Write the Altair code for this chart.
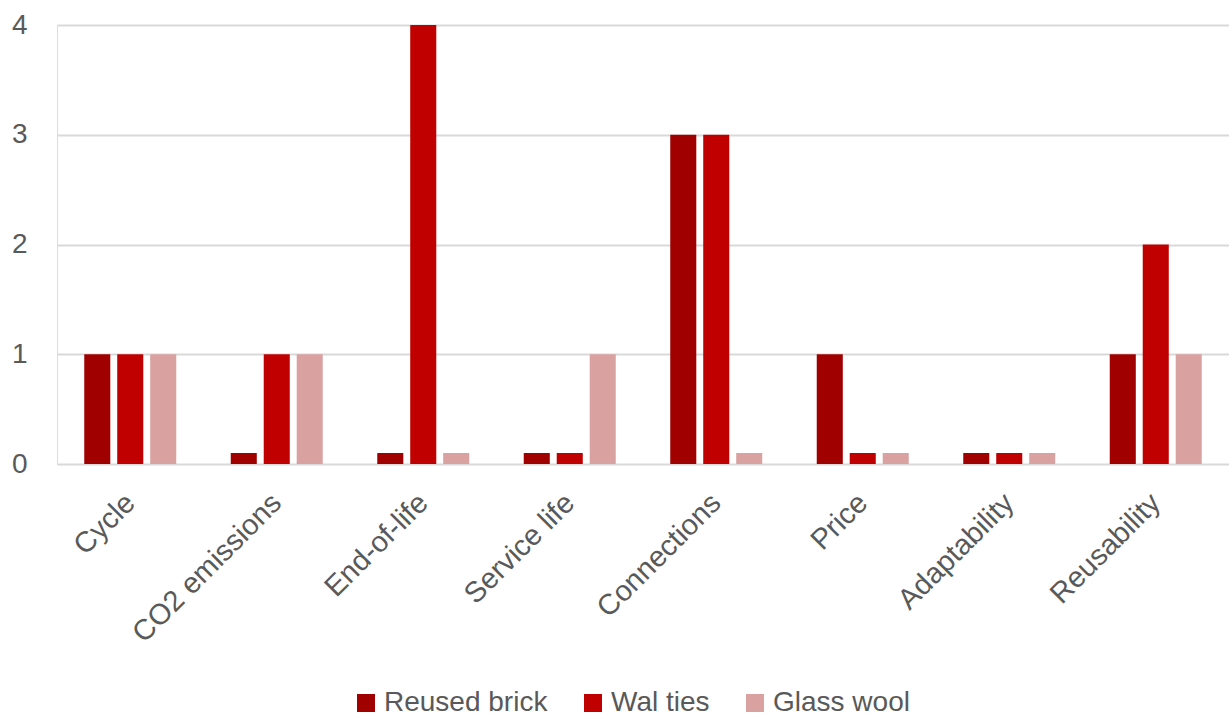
import altair as alt
import pandas as pd

# Criteria on the x axis and the three building components compared
criteria = ["Cycle", "CO2 emissions", "End-of-life", "Service life",
            "Connections", "Price", "Adaptability", "Reusability"]
series = ["Reused brick", "Wal ties", "Glass wool"]

# Scores per component, one value per criterion
reused_brick = [1, 0.1, 0.1, 0.1, 3, 1, 0.1, 1]
wal_ties = [1, 1, 4, 0.1, 3, 0.1, 0.1, 2]
glass_wool = [1, 1, 0.1, 1, 0.1, 0.1, 0.1, 1]

colors = ["#A00000", "#C00000", "#D9A1A0"]

rows = []
for name, vals in zip(series, [reused_brick, wal_ties, glass_wool]):
    for crit, v in zip(criteria, vals):
        rows.append({"criterion": crit, "component": name, "score": v})
df = pd.DataFrame(rows)

FONT = "Liberation Sans"
GREY = "#595959"

chart = alt.Chart(df).mark_bar().encode(
    x=alt.X("criterion:N", sort=criteria, title=None,
            scale=alt.Scale(paddingInner=0.372, paddingOuter=0.186),
            axis=alt.Axis(labelAngle=315, labelAlign="right", labelBaseline="middle",
                          labelFontSize=29, labelColor=GREY, labelFont=FONT,
                          labelPadding=34, labelLimit=0, ticks=False, domain=False)),
    xOffset=alt.XOffset("component:N", sort=series,
                        scale=alt.Scale(paddingInner=0.21, paddingOuter=0)),
    y=alt.Y("score:Q", title=None,
            scale=alt.Scale(domain=[0, 4], nice=False),
            axis=alt.Axis(values=[0, 1, 2, 3, 4], format="d", labelFontSize=28,
                          labelColor=GREY, labelFont=FONT, labelPadding=30,
                          ticks=False, domain=False, gridColor="#D9D9D9",
                          gridWidth=2)),
    color=alt.Color("component:N", sort=series,
                    scale=alt.Scale(domain=series, range=colors),
                    legend=alt.Legend(title=None, orient="none", direction="horizontal",
                                      legendX=295, legendY=664,
                                      symbolType="square", symbolSize=324,
                                      symbolStrokeWidth=0, labelFontSize=28,
                                      labelFont=FONT, labelColor=GREY, labelLimit=0,
                                      labelOffset=4, columnPadding=31)),
).properties(
    width=1172, height=439,
    autosize=alt.AutoSizeParams(type="none"),
    padding={"left": 57, "top": 25, "right": 0, "bottom": 253},
).configure_view(stroke=None).configure(background="white")

chart.save("out.html", embed_options={"renderer": "svg", "actions": False})
